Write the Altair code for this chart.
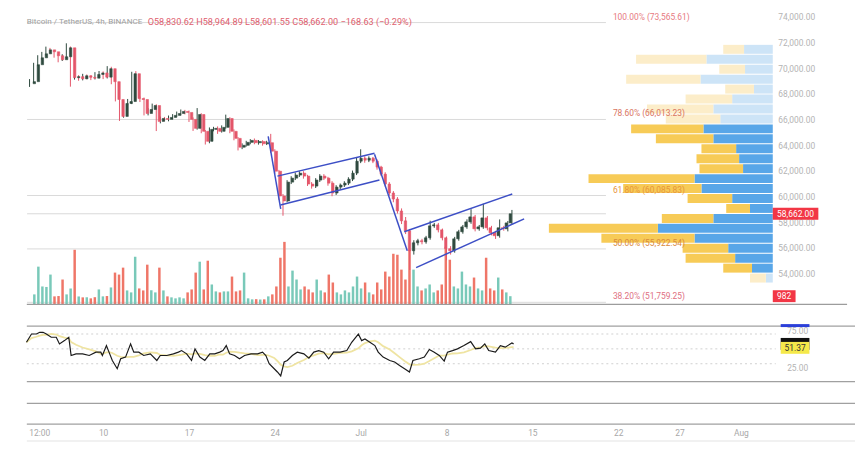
import altair as alt
import pandas as pd

# ---------------- data ----------------
# 8h candles, x in days relative to 1 Jul
candle_start_day = -27.0
candle_step_day = 1 / 3
first_open = 68800
closes = [68960, 70280, 70820, 71130, 71440, 71290, 70980, 70670, 70900, 71600,
          69270, 69350, 69180, 69420, 69300, 69230, 69520, 69640, 69310, 69970,
          68960, 67570, 66250, 67260, 67410, 69580, 67640, 67570, 66480, 66790,
          67100, 65860, 66090, 66020, 66170, 66330, 66480, 66640, 66560, 66020,
          65320, 66400, 65090, 64310, 65240, 65320, 65090, 65400, 66090, 65090,
          64540, 63850, 64000, 64230, 64380, 64200, 64290, 64120, 64200, 63540,
          61980, 60050, 59660, 61130, 61440, 61680, 61830, 61600, 60980, 60820,
          61290, 61600, 61440, 61050, 60280, 60740, 60900, 61050, 61360, 61830,
          62760, 62990, 62840, 62990, 62760, 62300, 61750, 60980, 60280, 59810,
          58880, 58110, 57330, 55780, 56400, 56560, 56480, 56790, 57720, 57800,
          57410, 56790, 55940, 55780, 56710, 57260, 57640, 58030, 58420, 57490,
          57640, 58340, 57570, 57180, 56950, 57570, 57490, 57950, 58662]
upper_wick = [200, 150, 200, 150, 250, 150, 100, 150, 200, 350,
              100, 150, 120, 150, 100, 150, 180, 150, 120, 200,
              150, 100, 100, 150, 200, 150, 200, 150, 150, 100,
              150, 100, 150, 120, 150, 100, 150, 150, 120, 150,
              150, 500, 100, 100, 150, 120, 150, 150, 300, 100,
              150, 100, 150, 120, 100, 150, 120, 100, 150, 690,
              150, 100, 150, 150, 150, 200, 150, 150, 100, 150,
              150, 150, 150, 100, 150, 150, 120, 150, 150, 200,
              250, 700, 150, 150, 100, 150, 100, 150, 150, 150,
              150, 200, 300, 150, 200, 150, 150, 150, 400, 150,
              150, 100, 100, 200, 150, 150, 150, 200, 600, 150,
              150, 1100, 150, 150, 150, 650, 150, 150, 300]
lower_wick = [250, 100, 100, 150, 150, 100, 150, 200, 100, 100,
              700, 150, 150, 120, 150, 150, 100, 150, 150, 100,
              200, 150, 350, 100, 100, 200, 150, 200, 150, 150,
              150, 750, 150, 120, 150, 150, 100, 150, 150, 200,
              200, 100, 150, 250, 150, 150, 200, 100, 100, 150,
              150, 250, 150, 100, 150, 120, 150, 150, 100, 150,
              200, 300, 1150, 100, 150, 150, 150, 200, 150, 200,
              150, 150, 150, 200, 250, 150, 150, 150, 150, 150,
              150, 150, 200, 150, 150, 200, 150, 200, 200, 250,
              200, 250, 250, 1500, 300, 200, 200, 150, 150, 150,
              200, 200, 900, 300, 150, 150, 150, 150, 150, 200,
              150, 150, 200, 200, 250, 150, 150, 200, 100]
volumes = [1200, 4560, 2160, 2100, 3600, 960, 1000, 3000, 1200, 1900,
           6600, 950, 840, 850, 720, 860, 1800, 960, 1000, 2040,
           3840, 3600, 4440, 1680, 1440, 5760, 1920, 1680, 4800, 1700,
           1440, 4440, 1680, 960, 840, 720, 840, 720, 1440, 1800,
           3840, 5160, 1800, 5280, 2400, 1560, 1440, 1560, 1560, 3360,
           1560, 1680, 3840, 720, 600, 620, 580, 600, 960, 1200,
           2160, 5640, 7560, 2160, 4080, 3000, 1800, 2160, 1800, 1440,
           3000, 1680, 1440, 3600, 2640, 1440, 1200, 1680, 1440, 2160,
           3360, 1920, 2640, 1440, 1200, 2640, 1800, 3960, 3360, 6120,
           6000, 4200, 3000, 6600, 4200, 2160, 1680, 1920, 2400, 1440,
           1680, 2400, 6960, 5400, 2160, 1920, 3960, 2400, 2160, 3240,
           1920, 1680, 5640, 1920, 1680, 3240, 1800, 1440, 982]

# Fibonacci retracement
fib_levels = [100.0, 78.6, 61.8, 50.0, 38.2]
fib_prices = [73565.61, 66013.23, 60085.83, 55922.54, 51759.25]
fib_start_day = -27.2
fib_end_day = 20.0

# channel / trend lines (day, price) -> (day, price)
ch_d0 = [-7.54, -6.79, -6.54, 1.13, 3.55, 4.52]
ch_p0 = [64698, 61597, 59349, 63302, 57256, 54465]
ch_d1 = [-6.52, 1.13, 1.53, 3.80, 12.36, 13.33]
ch_p1 = [59039, 63380, 61287, 55783, 60202, 58264]

# visible-range volume profile
vp_row_low = [71132, 70357, 69581, 68806, 68031, 67256, 66480, 65705, 64930, 64155,
              63379, 62604, 61829, 61053, 60278, 59503, 58728, 57952, 57177, 56402,
              55627, 54851, 54076, 53301]
vp_row_size = 775
vp_up = [29, 67, 28, 73, 19, 41, 60, 53, 70, 60, 37, 34, 30, 79, 72, 41, 23, 60, 116, 79, 45, 38, 21, 7]
vp_down = [21, 71, 26, 75, 29, 47, 67, 55, 73, 58, 35, 43, 44, 107, 79, 45, 24, 52, 110, 94, 46, 50, 29, 16]
vp_value_area = (8, 22)

# RSI
rsi_day = [-27.25, -26.84, -26.44, -26.17, -25.90, -25.63, -25.23, -24.82, -24.56, -24.15,
           -23.80, -23.61, -23.21, -22.67, -22.13, -21.59, -21.19, -21.06, -20.73, -20.52,
           -20.25, -19.85, -19.57, -19.17, -18.76, -18.50, -18.09, -17.69, -17.15, -16.62,
           -16.34, -15.81, -15.27, -14.86, -14.60, -14.19, -13.79, -13.51, -13.11, -12.71,
           -12.30, -11.90, -11.49, -11.23, -10.96, -10.69, -10.28, -9.88, -9.47, -8.94,
           -8.40, -8.00, -7.73, -7.46, -7.05, -6.79, -6.52, -6.24, -5.98, -5.57,
           -5.17, -4.63, -4.22, -3.82, -3.42, -3.01, -2.61, -2.21, -1.67, -1.13,
           -0.73, -0.19, 0.08, 0.35, 0.75, 1.16, 1.43, 1.83, 2.37, 2.77,
           3.17, 3.58, 3.98, 4.26, 4.79, 5.19, 5.60, 6.00, 6.41, 6.81,
           7.08, 7.49, 7.89, 8.42, 8.97, 9.37, 9.77, 10.12, 10.44, 10.99,
           11.39, 11.79, 12.33, 12.47]
rsi_val = [58.9, 70.0, 70.0, 72.3, 72.3, 70.0, 65.6, 65.6, 56.7, 61.1,
           65.6, 41.1, 43.3, 43.3, 41.1, 45.6, 45.6, 41.1, 54.4, 45.6,
           34.4, 23.3, 36.7, 38.9, 56.7, 45.6, 45.6, 41.1, 43.3, 34.4,
           41.1, 41.1, 43.3, 45.6, 47.7, 43.3, 34.4, 50.0, 38.9, 34.4,
           43.3, 43.3, 45.6, 47.7, 54.4, 43.3, 41.1, 36.7, 41.1, 43.3,
           43.3, 45.6, 41.1, 30.0, 23.3, 18.9, 13.6, 32.3, 34.4, 41.1,
           45.6, 43.3, 37.6, 45.6, 47.7, 45.6, 36.7, 45.6, 45.6, 47.7,
           58.9, 70.0, 61.1, 63.3, 58.9, 54.4, 45.6, 38.9, 34.4, 32.3,
           27.7, 23.3, 18.9, 34.4, 36.7, 38.9, 49.1, 45.6, 41.1, 33.6,
           45.6, 47.7, 50.0, 54.4, 59.7, 50.0, 50.9, 56.7, 47.7, 45.6,
           54.4, 52.3, 58.0, 56.7]
rsi_ma_last = 51.37
rsi_bands = [70, 50, 30]
rsi_ticks = [25, 75]

# axes
price_ticks = [54000, 56000, 58000, 60000, 62000, 64000, 66000, 68000, 70000, 72000, 74000]
date_tick_days = [-26.2, -21, -14, -7, 0, 7, 14, 21, 26, 31]
date_tick_labels = ["12:00", "10", "17", "24", "Jul", "8", "15", "22", "27", "Aug"]

header_grey = "Bitcoin / TetherUS, 4h, BINANCE"
header_red = "O58,830.62  H58,964.89  L58,601.55  C58,662.00  \u2212168.63 (\u22120.29%)"

# ---------------- styles ----------------
UP, DN = "#2f4a3f", "#e4566a"
VUP, VDN = "#79c9b9", "#ef7668"
FONT = "Roboto"
fib_colors = ["#e77a82", "#d9745f", "#e8953a", "#d98a3c", "#e0707f"]

XS = alt.Scale(domain=[-28, 33], range=[9.36, 764.54], nice=False, zero=False)
PS = alt.Scale(domain=[52000, 74000], range=[291.9, 7], nice=False, zero=False)
VS = alt.Scale(domain=[0, 12000], range=[297, 197], nice=False, zero=False)
RS = alt.Scale(domain=[0, 100], range=[379.5, 304.5], nice=False, zero=False)
PRS = alt.Scale(domain=[0, 250], range=[772, 522], nice=False, zero=False)

# ---------------- frames ----------------
n = len(closes)
opens = [first_open] + closes[:-1]
days = [candle_start_day + i * candle_step_day for i in range(n)]
highs = [max(o, c) + w for o, c, w in zip(opens, closes, upper_wick)]
lows = [min(o, c) - w for o, c, w in zip(opens, closes, lower_wick)]
cdf = pd.DataFrame({"d": days, "o": opens, "c": closes, "h": highs, "l": lows,
                    "v": volumes, "v0": [0] * n})

fib_labels = [f"{lv:.2f}% ({p:,.2f})" for lv, p in zip(fib_levels, fib_prices)]
fdf = pd.DataFrame({"p": fib_prices, "label": fib_labels,
                    "d0": [fib_start_day] * len(fib_prices), "d1": [fib_end_day] * len(fib_prices)})
pldf = pd.DataFrame({"p": [closes[-1]], "d0": [fib_start_day], "d1": [fib_end_day]})

chdf = pd.DataFrame({"d0": ch_d0, "p0": ch_p0, "d1": ch_d1, "p1": ch_p1})

vrows = []
for j, (lo, up, dn) in enumerate(zip(vp_row_low, vp_up, vp_down)):
    va = vp_value_area[0] <= j <= vp_value_area[1]
    sfx = "_va" if va else ""
    vrows.append({"lo": lo, "hi": lo + vp_row_size, "x0": 0, "x1": up, "key": "up" + sfx})
    vrows.append({"lo": lo, "hi": lo + vp_row_size, "x0": up, "x1": up + dn, "key": "down" + sfx})
vpdf = pd.DataFrame(vrows)

rdf = pd.DataFrame({"d": rsi_day, "r": rsi_val})
one = pd.DataFrame({"a": [0]})

candle_color = alt.condition("datum.c >= datum.o", alt.value(UP), alt.value(DN))
vol_color = alt.condition("datum.c >= datum.o", alt.value(VUP), alt.value(VDN))

label_expr = " : ".join(
    f"abs(datum.value - ({v})) < 0.01 ? '{l}'" for v, l in zip(date_tick_days, date_tick_labels)
) + " : ''"

layers = []

# fib lines + price line
layers.append(alt.Chart(fdf).mark_rule(color="#dadada", strokeWidth=1).encode(
    x=alt.X("d0:Q", scale=XS, axis=None), x2="d1:Q",
    y=alt.Y("p:Q", scale=PS, axis=None)))
layers.append(alt.Chart(pldf).mark_rule(color="#dadada", strokeWidth=1).encode(
    x=alt.X("d0:Q", scale=XS, axis=None), x2="d1:Q",
    y=alt.Y("p:Q", scale=PS, axis=None)))

# volume
layers.append(alt.Chart(cdf).mark_bar(size=2.5).encode(
    x=alt.X("d:Q", scale=XS, axis=None),
    y=alt.Y("v:Q", scale=VS, axis=None), y2="v0:Q",
    color=vol_color))

# candles
layers.append(alt.Chart(cdf).mark_rule(strokeWidth=1).encode(
    x=alt.X("d:Q", scale=XS, axis=None),
    y=alt.Y("l:Q", scale=PS, axis=None), y2="h:Q",
    color=candle_color))
layers.append(alt.Chart(cdf).mark_bar(size=2.4, strokeWidth=0.6).encode(
    x=alt.X("d:Q", scale=XS, axis=None),
    y=alt.Y("o:Q", scale=PS, axis=alt.Axis(
        orient="right", values=price_ticks, format=",.2f", labelPadding=5,
        ticks=False, domain=False, grid=False, labelColor="#b4b4b4",
        labelFontSize=8.5, labelFont=FONT, title=None)),
    y2="c:Q",
    color=candle_color, stroke=candle_color))

# channels
layers.append(alt.Chart(chdf).mark_rule(color="#3d4fc6", strokeWidth=1.5).encode(
    x=alt.X("d0:Q", scale=XS, axis=None), x2="d1:Q",
    y=alt.Y("p0:Q", scale=PS, axis=None), y2="p1:Q"))

# volume profile
layers.append(alt.Chart(vpdf).mark_rect(y2Offset=1).encode(
    x=alt.X("x0:Q", scale=PRS, axis=None), x2="x1:Q",
    y=alt.Y("lo:Q", scale=PS, axis=None), y2="hi:Q",
    color=alt.Color("key:N", legend=None, scale=alt.Scale(
        domain=["up_va", "down_va", "up", "down"],
        range=["#58a6e8", "#f7cb57", "#cde4f7", "#fcedc9"]))))

# fib labels
layers.append(alt.Chart(fdf).mark_text(align="left", baseline="bottom", dx=7, dy=-1,
                                      fontSize=8.5, font=FONT).encode(
    x=alt.X("d1:Q", scale=XS, axis=None),
    y=alt.Y("p:Q", scale=PS, axis=None),
    text="label:N",
    color=alt.Color("label:N", legend=None, scale=alt.Scale(domain=fib_labels, range=fib_colors))))

# header
layers.append(alt.Chart(one).mark_text(align="left", baseline="middle", fontSize=8.2,
                                      font=FONT, color="#a0a0a0").encode(
    x=alt.value(19), y=alt.value(12), text=alt.value(header_grey)))
layers.append(alt.Chart(one).mark_text(align="left", baseline="middle", fontSize=9.2,
                                      font=FONT, color="#e0606e").encode(
    x=alt.value(141), y=alt.value(12), text=alt.value(header_red)))

# last price label
lastp = pd.DataFrame({"p": [closes[-1]]})
layers.append(alt.Chart(lastp).mark_rect(color="#f23645", yOffset=-6, y2Offset=6).encode(
    x=alt.value(772), x2=alt.value(818),
    y=alt.Y("p:Q", scale=PS, axis=None), y2="p:Q"))
layers.append(alt.Chart(lastp).mark_text(color="white", fontSize=8.5, font=FONT,
                                        align="center", baseline="middle").encode(
    x=alt.value(795), y=alt.Y("p:Q", scale=PS, axis=None),
    text=alt.Text("p:Q", format=",.2f")))

# last volume label
lastv = pd.DataFrame({"v": [volumes[-1]]})
layers.append(alt.Chart(lastv).mark_rect(color="#f23645", yOffset=-6, y2Offset=6).encode(
    x=alt.value(772), x2=alt.value(795),
    y=alt.Y("v:Q", scale=VS, axis=None), y2="v:Q"))
layers.append(alt.Chart(lastv).mark_text(color="white", fontSize=8.5, font=FONT,
                                        align="center", baseline="middle").encode(
    x=alt.value(783.5), y=alt.Y("v:Q", scale=VS, axis=None),
    text=alt.Text("v:Q", format="d")))

# panel separators
for yv, x2v, col in [(297, 847, "#9c9c9c"), (319, 855, "#a0a0a0"), (375, 855, "#a0a0a0"),
                     (397, 855, "#a0a0a0"), (418, 855, "#a0a0a0"), (435, 855, "#ececec")]:
    layers.append(alt.Chart(one).mark_rule(color=col, strokeWidth=1.3).encode(
        x=alt.value(19), x2=alt.value(x2v), y=alt.value(yv)))

# RSI bands
layers.append(alt.Chart(pd.DataFrame({"lvl": rsi_bands})).mark_rule(
    color="#cfcfcf", strokeDash=[2, 3], strokeWidth=1).encode(
    x=alt.value(19), x2=alt.value(775),
    y=alt.Y("lvl:Q", scale=RS, axis=None)))

# RSI MA + RSI
layers.append(alt.Chart(rdf).transform_window(
    ma="mean(r)", frame=[-5, 0], sort=[alt.SortField("d")]
).mark_line(color="#efe4a2", strokeWidth=1.8).encode(
    x=alt.X("d:Q", scale=XS, axis=None),
    y=alt.Y("ma:Q", scale=RS, axis=None)))
layers.append(alt.Chart(rdf).mark_line(color="#1b1b1b", strokeWidth=1.2).encode(
    x=alt.X("d:Q", scale=XS, axis=alt.Axis(
        orient="bottom", offset=-22, values=date_tick_days, labelExpr=label_expr,
        domain=False, ticks=False, grid=False, labelColor="#a8a8a8", labelFontSize=8.5,
        labelFont=FONT, labelPadding=2, labelFlush=False, labelOverlap=False, title=None)),
    y=alt.Y("r:Q", scale=RS, axis=alt.Axis(
        orient="right", values=rsi_ticks, format=".2f", labelPadding=14,
        ticks=False, domain=False, grid=False, labelColor="#b4b4b4",
        labelFontSize=8.5, labelFont=FONT, title=None))))

# RSI value labels (RSI box is covered by the MA box, as in the original)
lastr = pd.DataFrame({"r": [rsi_val[-1]]})
lastma = pd.DataFrame({"r": [rsi_ma_last]})
layers.append(alt.Chart(lastr).mark_rect(color="#111111", yOffset=-6, y2Offset=6).encode(
    x=alt.value(780), x2=alt.value(809), y=alt.Y("r:Q", scale=RS, axis=None), y2="r:Q"))
layers.append(alt.Chart(lastma).mark_rect(color="#f5e94a", yOffset=-6, y2Offset=6).encode(
    x=alt.value(780), x2=alt.value(809), y=alt.Y("r:Q", scale=RS, axis=None), y2="r:Q"))
layers.append(alt.Chart(lastma).mark_text(color="#333333", fontSize=8.5, font=FONT,
                                         align="center", baseline="middle").encode(
    x=alt.value(794.5), y=alt.Y("r:Q", scale=RS, axis=None), text=alt.Text("r:Q", format=".2f")))
layers.append(alt.Chart(one).mark_rule(color="#2b3fd9", strokeWidth=3).encode(
    x=alt.value(780), x2=alt.value(809), y=alt.value(318.5)))

chart = alt.layer(*layers).resolve_scale(
    x="independent", y="independent", color="independent", stroke="independent"
).properties(
    width=772, height=442,
    autosize=alt.AutoSizeParams(type="none"),
    padding={"left": 0, "top": 0, "right": 83, "bottom": 0},
    background="white",
).configure_view(stroke=None)

chart.save("out.html", embed_options={"renderer": "svg", "actions": False})
